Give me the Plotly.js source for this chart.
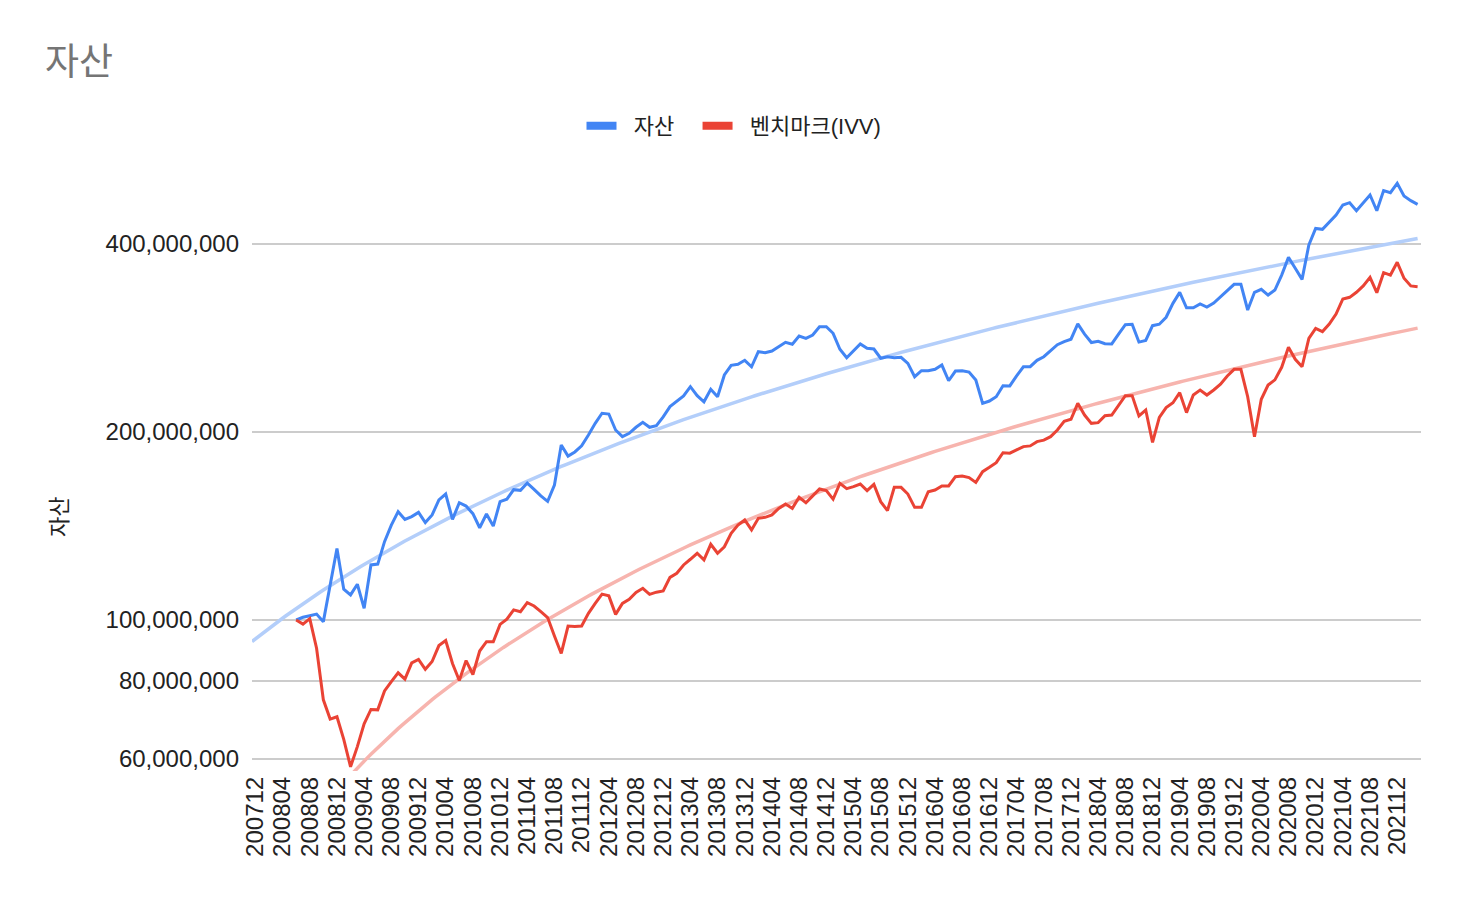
<!DOCTYPE html>
<html><head><meta charset="utf-8">
<script src="https://cdn.plot.ly/plotly-3.0.1.min.js"></script>
<style>html,body{margin:0;padding:0;background:#fff}#chart{width:1468px;height:908px}</style>
</head><body><div id="chart"></div>
<script>
// Month categories (YYYYMM)
const categories = [
 '200712',
 '200801','200802','200803','200804','200805','200806','200807','200808','200809','200810','200811','200812',
 '200901','200902','200903','200904','200905','200906','200907','200908','200909','200910','200911','200912',
 '201001','201002','201003','201004','201005','201006','201007','201008','201009','201010','201011','201012',
 '201101','201102','201103','201104','201105','201106','201107','201108','201109','201110','201111','201112',
 '201201','201202','201203','201204','201205','201206','201207','201208','201209','201210','201211','201212',
 '201301','201302','201303','201304','201305','201306','201307','201308','201309','201310','201311','201312',
 '201401','201402','201403','201404','201405','201406','201407','201408','201409','201410','201411','201412',
 '201501','201502','201503','201504','201505','201506','201507','201508','201509','201510','201511','201512',
 '201601','201602','201603','201604','201605','201606','201607','201608','201609','201610','201611','201612',
 '201701','201702','201703','201704','201705','201706','201707','201708','201709','201710','201711','201712',
 '201801','201802','201803','201804','201805','201806','201807','201808','201809','201810','201811','201812',
 '201901','201902','201903','201904','201905','201906','201907','201908','201909','201910','201911','201912',
 '202001','202002','202003','202004','202005','202006','202007','202008','202009','202010','202011','202012',
 '202101','202102','202103','202104','202105','202106','202107','202108','202109','202110','202111','202112',
 '202201','202202','202203'
];

// 자산 (values in millions of won)
const assetValues = [
 null,null,null,null,null,null,
 100.0,101.0,101.6,102.2,99.4,113.8,130.2,112.0,109.7,114.1,
 104.4,122.5,122.9,133.5,141.9,149.1,144.9,146.4,148.7,143.2,
 147.3,155.7,159.1,144.9,154.1,152.2,148.0,140.5,147.8,141.4,
 154.7,156.1,161.7,161.3,165.7,161.9,158.0,154.9,164.5,190.6,
 183.0,185.8,190.1,197.8,206.5,214.3,213.7,201.5,196.6,199.0,
 203.5,207.3,203.5,204.7,211.5,219.6,223.6,228.4,236.4,228.7,
 223.6,234.1,227.8,246.8,255.7,256.7,260.5,254.4,268.9,267.9,
 269.6,274.0,278.4,276.4,284.9,282.5,286.0,294.9,294.9,287.8,
 271.3,263.0,270.0,276.7,272.3,271.6,262.5,264.0,263.0,263.4,
 257.6,245.2,250.7,250.7,252.0,256.0,241.6,250.4,250.7,249.5,
 242.2,222.3,224.2,227.8,237.2,237.0,245.9,254.4,254.5,260.5,
 264.0,270.2,275.9,279.2,281.6,298.0,286.9,278.2,279.5,277.0,
 276.7,286.9,297.1,297.5,278.6,280.3,296.0,297.6,305.3,321.4,
 334.7,316.1,316.1,320.8,317.1,321.8,329.2,336.8,344.8,344.8,
 313.6,334.8,338.5,331.4,337.6,356.7,380.8,365.7,351.1,398.6,
 423.7,422.2,434.3,445.1,461.9,465.8,452.2,464.7,479.2,452.2,
 487.0,483.4,500.3,477.4,469.3,463.0
];

// 벤치마크(IVV) (values in millions of won)
const benchmarkValues = [
 null,null,null,null,null,null,
 100.0,98.5,100.5,90.1,74.5,69.4,70.0,64.4,58.2,62.7,
 68.2,71.9,71.8,77.0,79.7,82.3,80.4,85.4,86.5,83.4,
 85.8,91.0,92.7,85.2,80.0,86.1,81.8,89.2,92.3,92.3,
 98.4,100.3,103.8,103.1,106.6,105.3,103.1,100.9,94.3,88.4,
 97.8,97.6,97.8,102.5,106.3,110.0,109.3,102.1,106.3,107.9,
 110.7,112.4,109.9,110.8,111.3,117.0,118.8,122.5,125.1,127.9,
 124.8,132.2,127.9,131.0,137.7,141.9,144.6,139.4,145.5,146.0,
 147.3,150.9,153.4,150.9,157.2,154.1,158.0,162.1,161.1,156.1,
 165.5,162.3,163.5,165.1,161.1,164.9,154.7,149.7,163.1,163.1,
 159.1,151.5,151.5,160.5,161.5,163.9,163.9,169.6,170.1,169.1,
 166.1,172.8,175.6,178.6,185.3,185.0,187.2,189.5,190.0,193.0,
 194.1,196.6,201.5,208.1,209.6,222.3,212.9,206.5,207.0,212.4,
 212.9,221.0,228.7,228.7,212.2,216.9,192.5,211.1,218.8,222.8,
 231.2,214.8,229.2,233.5,229.2,233.5,238.5,245.9,252.0,252.0,
 227.8,196.6,225.6,237.8,242.4,253.9,273.3,261.5,254.4,282.5,
 293.1,289.6,297.8,309.0,326.6,328.6,334.8,342.7,353.8,334.3,
 359.9,356.7,373.9,352.5,342.7,341.8
];

const seriesNames = ['자산', '벤치마크(IVV)'];
const chartTitle = '자산';
const yAxisTitle = '자산';
const yTickVals = [60, 80, 100, 200, 400];
const yTickText = ['60,000,000', '80,000,000', '100,000,000', '200,000,000', '400,000,000'];
const xTickStep = 4;

const BLUE = '#4285F4', RED = '#EA4335';
const BLUE_T = '#B3CEFA', RED_T = '#F7B4AE';
const MIXED = '"Liberation Sans", "Noto Sans CJK KR", Arial, sans-serif';
const HANGUL = '"Noto Sans CJK KR", "Noto Sans", sans-serif';
const LATIN = '"Liberation Sans", Arial, sans-serif';
const LEAD = '\u00A0\u00A0';            // gap between legend swatch and its label
const TRAIL = '\u00A0\u00A0\u00A0';     // gap between legend entries

const idx = categories.map((c, i) => i);

// Linear least-squares trendline fitted to the series (as the spreadsheet does)
function linearTrend(vals) {
  let n = 0, sx = 0, sy = 0, sxx = 0, sxy = 0;
  vals.forEach((v, i) => { if (v != null) { n++; sx += i; sy += v; sxx += i * i; sxy += i * v; } });
  const b = (n * sxy - sx * sy) / (n * sxx - sx * sx);
  const a = (sy - b * sx) / n;
  const xs = [];
  for (let t = -0.5; t <= categories.length - 1 + 1e-9; t += 0.5) xs.push(t);
  return { x: xs, y: xs.map(t => a + b * t) };
}
const tA = linearTrend(assetValues);
const tB = linearTrend(benchmarkValues);

const traces = [
  { x: tA.x, y: tA.y, mode: 'lines', line: { color: BLUE_T, width: 3.5 }, showlegend: false, hoverinfo: 'skip' },
  { x: tB.x, y: tB.y, mode: 'lines', line: { color: RED_T, width: 3.5 }, showlegend: false, hoverinfo: 'skip' },
  { x: idx, y: assetValues, mode: 'lines', name: seriesNames[0], line: { color: BLUE, width: 3 }, showlegend: false },
  { x: idx, y: benchmarkValues, mode: 'lines', name: seriesNames[1], line: { color: RED, width: 3 }, showlegend: false },
  { x: [null], y: [null], mode: 'lines', name: LEAD + seriesNames[0] + TRAIL, line: { color: BLUE, width: 8 }, showlegend: true },
  { x: [null], y: [null], mode: 'lines', name: LEAD + seriesNames[1], line: { color: RED, width: 8 }, showlegend: true }
];

// axis geometry: 100M gridline and one doubling per 188px
const W = 1468, H = 908;
const plotLeft = 252, plotRight = 1421, plotTop = 170, plotBottom = 771, y100 = 620, pxPerDouble = 188;
const decadePx = pxPerDouble / Math.log10(2);
const yRange = [2 - (plotBottom - y100) / decadePx, 2 + (y100 - plotTop) / decadePx];

const xTickVals = idx.filter(i => i % xTickStep === 0);
const xTickText = xTickVals.map(i => categories[i]);

const layout = {
  width: W, height: H,
  margin: { l: plotLeft, r: W - plotRight, t: plotTop, b: H - plotBottom, pad: 0 },
  paper_bgcolor: '#fff', plot_bgcolor: '#fff',
  title: { text: chartTitle, xref: 'container', yref: 'container', x: 45 / W, xanchor: 'left',
           y: 1 - 62 / H, yanchor: 'middle', font: { family: HANGUL, size: 37, color: '#757575' } },
  showlegend: true,
  legend: { orientation: 'h', xref: 'container', yref: 'container', x: 0.5, xanchor: 'center',
            y: 1 - 126 / H, yanchor: 'middle', font: { family: MIXED, size: 22, color: '#222' },
            itemwidth: 30, bgcolor: 'rgba(0,0,0,0)' },
  xaxis: {
    type: 'linear', range: [-0.5, categories.length - 0.5],
    tickmode: 'array', tickvals: xTickVals, ticktext: xTickText, tickangle: -90,
    showgrid: false, zeroline: false, showline: false, ticks: '',
    tickfont: { family: LATIN, size: 24, color: '#222' }, fixedrange: true
  },
  yaxis: {
    type: 'log', range: yRange, tickmode: 'array', tickvals: yTickVals, ticktext: yTickText,
    showgrid: true, gridcolor: '#cccccc', gridwidth: 2, zeroline: false, showline: false, ticks: '',
    ticklabelstandoff: 12,
    tickfont: { family: LATIN, size: 24, color: '#222' },
    fixedrange: true
  },
  annotations: [{
    text: yAxisTitle, textangle: -90, showarrow: false,
    xref: 'paper', yref: 'paper',
    x: (57 - plotLeft) / (plotRight - plotLeft), y: (plotBottom - 517) / (plotBottom - plotTop),
    xanchor: 'center', yanchor: 'middle',
    font: { family: HANGUL, size: 22, color: '#222' }
  }]
};

Plotly.newPlot('chart', traces, layout, { displayModeBar: false, staticPlot: true });
</script>
</body></html>
